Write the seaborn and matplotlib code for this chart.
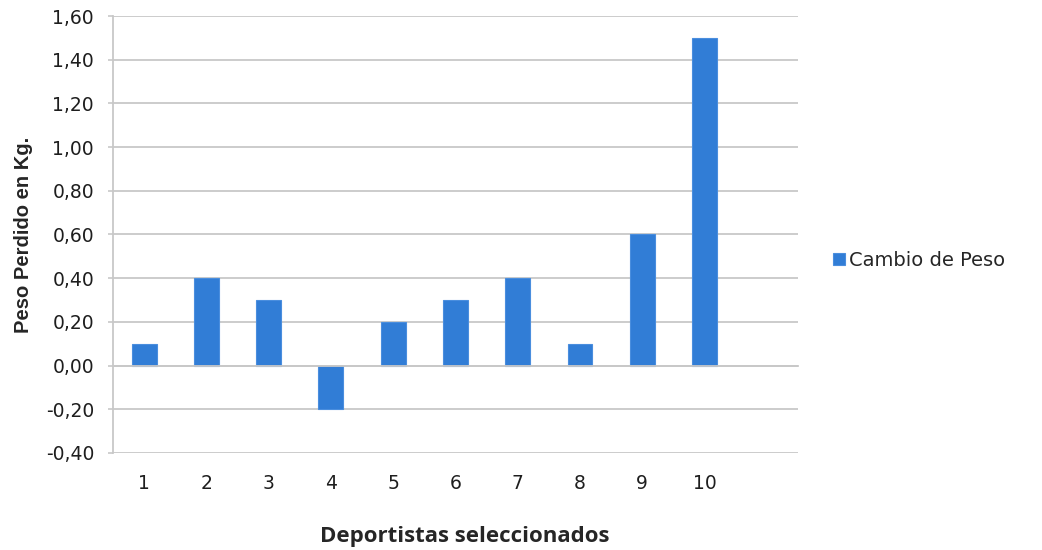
import numpy as np
import pandas as pd
import seaborn as sns
import matplotlib.pyplot as plt
from matplotlib.ticker import FuncFormatter, MultipleLocator

# --- data ---
deportistas = ['1', '2', '3', '4', '5', '6', '7', '8', '9', '10']
cambio_peso = [0.10, 0.40, 0.30, -0.20, 0.20, 0.30, 0.40, 0.10, 0.60, 1.50]
serie = 'Cambio de Peso'

df = pd.DataFrame({'deportista': deportistas, 'peso': cambio_peso})

sns.set_style('white')
plt.rcParams['font.family'] = ['DejaVu Sans']

fig = plt.figure(figsize=(10.42, 5.5), dpi=100)
ax = fig.add_axes([0.1084, 0.1764, 0.6574, 0.7945])

sns.barplot(data=df, x='deportista', y='peso', color='#317DD6', width=0.4,
            saturation=1, label=serie, ax=ax, zorder=3)
for p in ax.patches:
    p.set_edgecolor('#4A8EDE')
    p.set_linewidth(0.8)

grid_col = '#C8C8C8'
ax.set_ylim(-0.40, 1.60)
ax.set_xlim(-0.5, len(deportistas) + 0.5)  # one empty slot on the right, as in the original
ax.yaxis.set_major_locator(MultipleLocator(0.20))
ax.yaxis.set_major_formatter(FuncFormatter(lambda v, _: f'{v:.2f}'.replace('.', ',')))
ax.grid(axis='y', color=grid_col, linewidth=1.3, zorder=0)

for s in ['top', 'right']:
    ax.spines[s].set_visible(False)
ax.spines['left'].set_color(grid_col)
ax.spines['left'].set_linewidth(1.3)
ax.spines['bottom'].set_position(('data', 0))
ax.spines['bottom'].set_color(grid_col)
ax.spines['bottom'].set_linewidth(1.3)
ax.spines['bottom'].set_zorder(4)

ax.set_xticks(np.arange(len(deportistas)))
ax.set_xticklabels(deportistas)
ax.set_xticks(np.arange(-0.5, len(deportistas) + 0.6, 1), minor=True)
ax.tick_params(axis='x', which='major', length=0, pad=78, labelsize=13.5, labelcolor='#1E1E1E')
ax.tick_params(axis='x', which='minor', length=4, width=1.2, color=grid_col, direction='out')
ax.tick_params(axis='y', which='major', length=3.6, width=1.2, color=grid_col, direction='out',
               labelsize=13.5, labelcolor='#1E1E1E', pad=10, left=True)

ax.set_xlabel('Deportistas seleccionados', fontsize=16, fontweight='bold',
              family=['Open Sans', 'DejaVu Sans'], labelpad=0)
ax.xaxis.set_label_coords(0.514, -0.168)
ax.set_ylabel('Peso Perdido en Kg.', fontsize=14.5, fontweight='bold',
              family=['Liberation Sans', 'DejaVu Sans'], labelpad=9)

ax.legend(loc='center left', bbox_to_anchor=(0.79, 0.527), bbox_transform=fig.transFigure,
          frameon=False, fontsize=14, handlelength=0.62, handleheight=0.62, handletextpad=0.2,
          borderpad=0)

fig.savefig('out.png', dpi=100)
